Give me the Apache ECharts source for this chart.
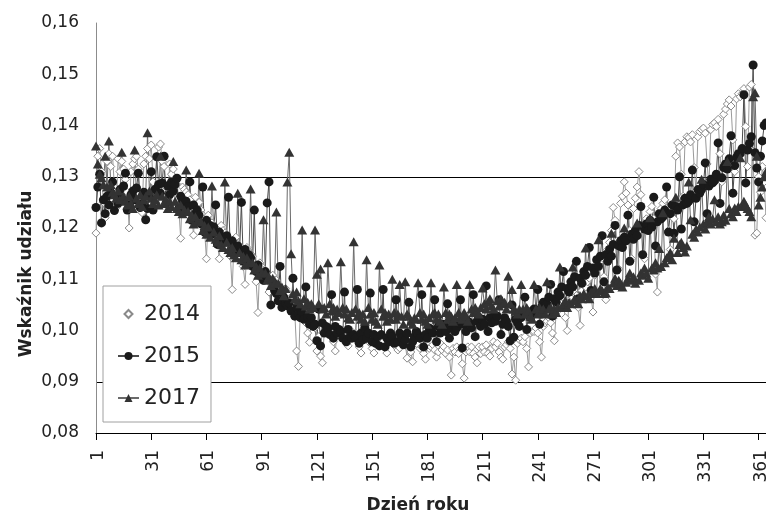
<!DOCTYPE html>
<html>
<head>
<meta charset="utf-8">
<script src="https://cdn.jsdelivr.net/npm/echarts@6/dist/echarts.min.js"></script>
<style>
  html, body { margin: 0; padding: 0; background: #fff; }
  #wrap { position: relative; width: 766px; height: 518px; }
  #chart { width: 766px; height: 518px; }
  .xlab {
    position: absolute;
    top: 450px;
    font: 17px "DejaVu Sans", sans-serif;
    line-height: 1;
    color: #222;
    white-space: nowrap;
    transform-origin: 0 0;
    transform: rotate(-90deg) translate(-100%, -50%);
  }
</style>
</head>
<body>
<div id="wrap"><div id="chart"></div></div>
<script>
// day numbers 1..365 (category axis)
const days = Array.from({ length: 365 }, (_, i) => String(i + 1));
const tickDays = [1, 31, 61, 91, 121, 151, 181, 211, 241, 271, 301, 331, 361];

const seriesNames = ["2014", "2015", "2017"];
const yTicks = [0.08, 0.09, 0.10, 0.11, 0.12, 0.13, 0.14, 0.15, 0.16];

// one row = one week, comment = first day of the row
const v2014 = [
  0.119, 0.134, 0.1355, 0.131, 0.125, 0.122, 0.133, // 1
  0.1345, 0.132, 0.134, 0.128, 0.124, 0.1335, 0.131, // 8
  0.133, 0.1315, 0.1295, 0.127, 0.120, 0.131, 0.1325, // 15
  0.1335, 0.134, 0.1315, 0.126, 0.123, 0.1325, 0.134, // 22
  0.1355, 0.1335, 0.1362, 0.129, 0.125, 0.134, 0.1358, // 29
  0.1364, 0.133, 0.132, 0.128, 0.1245, 0.1325, 0.1305, // 36
  0.1315, 0.1295, 0.1285, 0.124, 0.118, 0.128, 0.1275, // 43
  0.127, 0.1265, 0.1255, 0.1225, 0.1186, 0.126, 0.1245, // 50
  0.125, 0.1235, 0.1225, 0.1195, 0.114, 0.1225, 0.121, // 57
  0.121, 0.1205, 0.119, 0.117, 0.114, 0.1205, 0.1195, // 64
  0.119, 0.1185, 0.1175, 0.1145, 0.108, 0.1178, 0.1182, // 71
  0.1168, 0.1165, 0.1155, 0.1125, 0.109, 0.1162, 0.1155, // 78
  0.115, 0.1145, 0.1128, 0.1095, 0.1035, 0.1132, 0.1125, // 85
  0.1118, 0.1115, 0.1105, 0.1075, 0.105, 0.1108, 0.1098, // 92
  0.1098, 0.1088, 0.1082, 0.1058, 0.105, 0.1082, 0.1075, // 99
  0.107, 0.1065, 0.1058, 0.1035, 0.096, 0.093, 0.1038, // 106
  0.1028, 0.1025, 0.1015, 0.0995, 0.0977, 0.1018, 0.1012, // 113
  0.1005, 0.096, 0.0988, 0.095, 0.0937, 0.0998, 0.1008, // 120
  0.1005, 0.0995, 0.0992, 0.0978, 0.096, 0.0998, 0.1002, // 127
  0.0998, 0.0995, 0.0988, 0.0975, 0.097, 0.0992, 0.0998, // 134
  0.0988, 0.0995, 0.0985, 0.0968, 0.0956, 0.0988, 0.0995, // 141
  0.0985, 0.0988, 0.0975, 0.0965, 0.0956, 0.0985, 0.0988, // 148
  0.0985, 0.0975, 0.0978, 0.0968, 0.0956, 0.0982, 0.0985, // 155
  0.0982, 0.0975, 0.0968, 0.0962, 0.0966, 0.0978, 0.0975, // 162
  0.0975, 0.0946, 0.0965, 0.0958, 0.0939, 0.0975, 0.0978, // 169
  0.0972, 0.0965, 0.0968, 0.0955, 0.0944, 0.0972, 0.0965, // 176
  0.0968, 0.0972, 0.0962, 0.0948, 0.0958, 0.0975, 0.0962, // 183
  0.0968, 0.0955, 0.0962, 0.0948, 0.0913, 0.0965, 0.0958, // 190
  0.0968, 0.0955, 0.0965, 0.0935, 0.0907, 0.0958, 0.0968, // 197
  0.0958, 0.0968, 0.0955, 0.0948, 0.0937, 0.0968, 0.0955, // 204
  0.0968, 0.0958, 0.0972, 0.0955, 0.095, 0.0965, 0.0978, // 211
  0.0968, 0.0975, 0.0958, 0.0948, 0.0944, 0.0968, 0.0972, // 218
  0.0978, 0.0965, 0.0915, 0.0948, 0.0903, 0.0975, 0.0982, // 225
  0.0985, 0.0978, 0.0988, 0.0965, 0.0929, 0.0995, 0.0998, // 232
  0.0998, 0.1005, 0.0995, 0.0978, 0.0948, 0.1008, 0.1015, // 239
  0.1018, 0.1025, 0.1015, 0.0995, 0.098, 0.1035, 0.1042, // 246
  0.1045, 0.1052, 0.1048, 0.1025, 0.100, 0.1058, 0.1062, // 253
  0.1065, 0.1072, 0.1068, 0.1045, 0.101, 0.1078, 0.1088, // 260
  0.1085, 0.1095, 0.1102, 0.1065, 0.1036, 0.1108, 0.1118, // 267
  0.1128, 0.1135, 0.1142, 0.1105, 0.106, 0.1158, 0.1172, // 274
  0.1195, 0.124, 0.1215, 0.1175, 0.112, 0.1248, 0.1262, // 281
  0.129, 0.1268, 0.1245, 0.1195, 0.114, 0.1238, 0.1258, // 288
  0.128, 0.131, 0.1265, 0.1205, 0.114, 0.1218, 0.1198, // 295
  0.1232, 0.1242, 0.1218, 0.111, 0.1075, 0.1228, 0.1238, // 302
  0.1248, 0.1255, 0.1238, 0.1195, 0.1158, 0.1245, 0.1218, // 309
  0.134, 0.1366, 0.1358, 0.1305, 0.1262, 0.1368, 0.1378, // 316
  0.1376, 0.1368, 0.1382, 0.1318, 0.1272, 0.1378, 0.1388, // 323
  0.1392, 0.1395, 0.1385, 0.1325, 0.1282, 0.1392, 0.1402, // 330
  0.1405, 0.1398, 0.1412, 0.1345, 0.129, 0.1422, 0.1432, // 337
  0.1442, 0.145, 0.1438, 0.1372, 0.131, 0.1452, 0.1462, // 344
  0.1456, 0.1462, 0.1472, 0.1398, 0.132, 0.1475, 0.148, // 351
  0.135, 0.1186, 0.119, 0.130, 0.127, 0.132, 0.129, // 358
  0.122 // 365
];

const v2015 = [
  0.124, 0.128, 0.1305, 0.121, 0.1255, 0.1228, 0.1262, // 1
  0.1245, 0.127, 0.129, 0.1234, 0.1262, 0.1248, 0.1275, // 8
  0.1258, 0.1282, 0.1307, 0.1235, 0.1245, 0.1265, 0.1272, // 15
  0.1255, 0.1278, 0.1307, 0.124, 0.1248, 0.127, 0.1216, // 22
  0.1238, 0.1262, 0.131, 0.1235, 0.1275, 0.1339, 0.1285, // 29
  0.1268, 0.1288, 0.134, 0.1248, 0.1282, 0.1265, 0.129, // 36
  0.1272, 0.1285, 0.1297, 0.1238, 0.1262, 0.1255, 0.1245, // 43
  0.1252, 0.1242, 0.129, 0.1215, 0.1245, 0.1228, 0.1235, // 50
  0.1225, 0.1208, 0.128, 0.1192, 0.1215, 0.1195, 0.1205, // 57
  0.1188, 0.1202, 0.1245, 0.1168, 0.1192, 0.1175, 0.1182, // 64
  0.1172, 0.1185, 0.126, 0.1155, 0.1175, 0.1162, 0.1158, // 71
  0.1165, 0.1152, 0.125, 0.1135, 0.1158, 0.1142, 0.1148, // 78
  0.1142, 0.1125, 0.1235, 0.1115, 0.1128, 0.1112, 0.1105, // 85
  0.1098, 0.1115, 0.1249, 0.129, 0.105, 0.1095, 0.1078, // 92
  0.1072, 0.1058, 0.1125, 0.1045, 0.1065, 0.1052, 0.1048, // 99
  0.1054, 0.1038, 0.1102, 0.1028, 0.1045, 0.1032, 0.1025, // 106
  0.1035, 0.1022, 0.1085, 0.1026, 0.1012, 0.1025, 0.1008, // 113
  0.1012, 0.098, 0.1042, 0.097, 0.1015, 0.0995, 0.1008, // 120
  0.1005, 0.0992, 0.107, 0.0985, 0.1008, 0.0995, 0.1002, // 127
  0.0998, 0.0985, 0.1075, 0.0978, 0.1002, 0.0988, 0.0985, // 134
  0.0992, 0.0985, 0.108, 0.0975, 0.0995, 0.0982, 0.1005, // 141
  0.0985, 0.0995, 0.1073, 0.0978, 0.0992, 0.0975, 0.0988, // 148
  0.097, 0.0992, 0.108, 0.0968, 0.0985, 0.0978, 0.0995, // 155
  0.0988, 0.0975, 0.106, 0.0978, 0.0995, 0.0985, 0.0972, // 162
  0.0982, 0.0995, 0.1055, 0.0968, 0.0978, 0.0988, 0.0998, // 169
  0.0992, 0.0985, 0.107, 0.0968, 0.0992, 0.0985, 0.1005, // 176
  0.1002, 0.0995, 0.106, 0.0978, 0.1008, 0.0995, 0.1002, // 183
  0.1012, 0.0998, 0.1052, 0.0985, 0.1005, 0.1015, 0.0998, // 190
  0.1005, 0.1015, 0.106, 0.0966, 0.1012, 0.0998, 0.1018, // 197
  0.1015, 0.1005, 0.107, 0.0988, 0.1018, 0.1025, 0.1008, // 204
  0.1022, 0.1012, 0.1087, 0.0998, 0.1025, 0.1015, 0.1028, // 211
  0.1018, 0.1028, 0.106, 0.0992, 0.1012, 0.1025, 0.1018, // 218
  0.1008, 0.098, 0.105, 0.0987, 0.1022, 0.1015, 0.1008, // 225
  0.1025, 0.1035, 0.1065, 0.1002, 0.1032, 0.1025, 0.1038, // 232
  0.1042, 0.1035, 0.108, 0.1012, 0.1045, 0.1055, 0.1048, // 239
  0.1052, 0.1065, 0.109, 0.1028, 0.1062, 0.1055, 0.1075, // 246
  0.1068, 0.1085, 0.1115, 0.1048, 0.1082, 0.1075, 0.1095, // 253
  0.1085, 0.1105, 0.1135, 0.1062, 0.1102, 0.1092, 0.1115, // 260
  0.1108, 0.1125, 0.1162, 0.1078, 0.1122, 0.1112, 0.1138, // 267
  0.1125, 0.1145, 0.1185, 0.1095, 0.1148, 0.1135, 0.1158, // 274
  0.1145, 0.1168, 0.1205, 0.1118, 0.1165, 0.1175, 0.1162, // 281
  0.1182, 0.1175, 0.1225, 0.1135, 0.1188, 0.1178, 0.1195, // 288
  0.1185, 0.1205, 0.1242, 0.1148, 0.1198, 0.1208, 0.1195, // 295
  0.1215, 0.1202, 0.126, 0.1165, 0.1212, 0.1228, 0.1218, // 302
  0.1222, 0.1235, 0.128, 0.1192, 0.1228, 0.1245, 0.119, // 309
  0.1242, 0.1235, 0.130, 0.1198, 0.1245, 0.1258, 0.1248, // 316
  0.1252, 0.1265, 0.1313, 0.1212, 0.1258, 0.1275, 0.1268, // 323
  0.1275, 0.1285, 0.1327, 0.1228, 0.1282, 0.1295, 0.1288, // 330
  0.1292, 0.1305, 0.1366, 0.1248, 0.1298, 0.1318, 0.1325, // 337
  0.1315, 0.1335, 0.138, 0.1268, 0.1322, 0.1338, 0.1345, // 344
  0.1345, 0.1355, 0.146, 0.1288, 0.1352, 0.1365, 0.1378, // 351
  0.1518, 0.1347, 0.1317, 0.129, 0.134, 0.137, 0.140, // 358
  0.1405 // 365
];

const v2017 = [
  0.136, 0.1325, 0.1305, 0.1298, 0.1285, 0.134, 0.128, // 1
  0.137, 0.1285, 0.127, 0.1265, 0.1258, 0.1272, 0.1255, // 8
  0.1348, 0.1262, 0.1252, 0.1245, 0.1262, 0.1248, 0.1238, // 15
  0.1352, 0.1258, 0.1248, 0.1265, 0.1242, 0.1255, 0.1262, // 22
  0.1386, 0.1272, 0.1258, 0.1248, 0.1255, 0.1265, 0.1245, // 29
  0.134, 0.1262, 0.1248, 0.1255, 0.1238, 0.1252, 0.1242, // 36
  0.133, 0.1252, 0.1238, 0.1232, 0.1245, 0.1228, 0.1235, // 43
  0.1313, 0.1232, 0.1218, 0.1225, 0.1208, 0.1222, 0.1212, // 50
  0.1307, 0.1212, 0.1195, 0.1205, 0.1188, 0.1202, 0.1182, // 57
  0.1282, 0.1192, 0.1178, 0.1172, 0.1185, 0.1168, 0.1162, // 64
  0.129, 0.1172, 0.1158, 0.1152, 0.1162, 0.1148, 0.1142, // 71
  0.1268, 0.1152, 0.1138, 0.1145, 0.1128, 0.1142, 0.1132, // 78
  0.1276, 0.1132, 0.1118, 0.1125, 0.1108, 0.1122, 0.1112, // 85
  0.1216, 0.1112, 0.1098, 0.1105, 0.1088, 0.1102, 0.1092, // 92
  0.1231, 0.1092, 0.1078, 0.1085, 0.1068, 0.1082, 0.129, // 99
  0.1348, 0.115, 0.1072, 0.1062, 0.1075, 0.1058, 0.1052, // 106
  0.1196, 0.1062, 0.1048, 0.1055, 0.1042, 0.1052, 0.1045, // 113
  0.1196, 0.111, 0.1052, 0.112, 0.1042, 0.1045, 0.1032, // 120
  0.1132, 0.1052, 0.1038, 0.1045, 0.1028, 0.1042, 0.1035, // 127
  0.1134, 0.1045, 0.1032, 0.1042, 0.1025, 0.1022, 0.1035, // 134
  0.1173, 0.1042, 0.1028, 0.1035, 0.1022, 0.1032, 0.1018, // 141
  0.1138, 0.1045, 0.1032, 0.1022, 0.1035, 0.1018, 0.1012, // 148
  0.1128, 0.1042, 0.1028, 0.1035, 0.1018, 0.1032, 0.1022, // 155
  0.110, 0.1035, 0.1022, 0.1032, 0.109, 0.1028, 0.1012, // 162
  0.1095, 0.1032, 0.1028, 0.1018, 0.1012, 0.1025, 0.1022, // 169
  0.1093, 0.1035, 0.1022, 0.1032, 0.1018, 0.1012, 0.1025, // 176
  0.1093, 0.1032, 0.1035, 0.1022, 0.1032, 0.1018, 0.1012, // 183
  0.1085, 0.1035, 0.1022, 0.1032, 0.1028, 0.1018, 0.1025, // 190
  0.109, 0.1035, 0.1028, 0.1022, 0.1035, 0.1028, 0.1018, // 197
  0.109, 0.1042, 0.1035, 0.1045, 0.1038, 0.1032, 0.1045, // 204
  0.1083, 0.1052, 0.1042, 0.1055, 0.1062, 0.1048, 0.1042, // 211
  0.1118, 0.1058, 0.1048, 0.1062, 0.1052, 0.1055, 0.1042, // 218
  0.1106, 0.1052, 0.108, 0.1042, 0.1038, 0.1032, 0.1042, // 225
  0.109, 0.1042, 0.1032, 0.1045, 0.1038, 0.1028, 0.1022, // 232
  0.109, 0.1042, 0.1032, 0.1045, 0.1035, 0.1042, 0.1032, // 239
  0.1095, 0.1042, 0.1045, 0.1032, 0.1042, 0.1035, 0.1045, // 246
  0.1124, 0.1045, 0.1052, 0.1058, 0.1045, 0.1055, 0.1052, // 253
  0.1124, 0.1062, 0.1058, 0.1052, 0.1068, 0.1062, 0.1072, // 260
  0.1161, 0.1068, 0.1062, 0.1075, 0.1072, 0.1082, 0.1072, // 267
  0.1177, 0.1082, 0.1078, 0.1072, 0.1073, 0.1085, 0.1082, // 274
  0.119, 0.1092, 0.1102, 0.1088, 0.1098, 0.1092, 0.1085, // 281
  0.120, 0.1094, 0.1102, 0.1112, 0.1098, 0.1105, 0.1092, // 288
  0.121, 0.1098, 0.1112, 0.1108, 0.1122, 0.1112, 0.1102, // 295
  0.122, 0.1122, 0.1118, 0.1132, 0.1122, 0.116, 0.1125, // 302
  0.123, 0.1132, 0.1142, 0.1143, 0.1152, 0.1138, 0.118, // 309
  0.126, 0.1152, 0.1168, 0.1172, 0.1162, 0.1153, 0.1165, // 316
  0.129, 0.1216, 0.1188, 0.1182, 0.1198, 0.1192, 0.1202, // 323
  0.1295, 0.1208, 0.1198, 0.1212, 0.1222, 0.1208, 0.1218, // 330
  0.1255, 0.1212, 0.1222, 0.1208, 0.1212, 0.1225, 0.1215, // 337
  0.133, 0.1238, 0.1228, 0.1222, 0.1239, 0.1232, 0.1242, // 344
  0.1337, 0.1242, 0.1252, 0.1245, 0.1238, 0.1232, 0.1222, // 351
  0.1456, 0.1464, 0.134, 0.1245, 0.126, 0.128, 0.130, // 358
  0.131 // 365
];

// only the 0,09 and 0,13 gridlines are drawn
const gridColors = yTicks.map((t) => (Math.abs(t - 0.09) < 1e-6 || Math.abs(t - 0.13) < 1e-6 ? "#000" : "rgba(0,0,0,0)"));

const chart = echarts.init(document.getElementById("chart"));

chart.setOption({
  animation: false,
  backgroundColor: "#fff",
  grid: { left: 96, right: 0, top: 23, bottom: 85 },
  xAxis: {
    type: "category",
    data: days,
    boundaryGap: false,
    axisLine: { lineStyle: { color: "#000", width: 1 } },
    axisTick: { interval: 29, length: 7, lineStyle: { color: "#000" } },
    axisLabel: { show: false },
  },
  yAxis: {
    type: "value",
    min: 0.08,
    max: 0.16,
    interval: 0.01,
    axisLine: { show: true, lineStyle: { color: "#8c8c8c" } },
    axisTick: { show: false },
    axisLabel: {
      formatter: (v) => v.toFixed(2).replace(".", ","),
      fontSize: 17,
      color: "#222",
      margin: 17,
      fontFamily: "DejaVu Sans",
    },
    splitLine: { show: true, lineStyle: { color: gridColors, width: 1 } },
  },
  legend: {
    orient: "vertical",
    left: 103,
    top: 286,
    padding: [17, 11, 13, 14],
    itemGap: 20,
    itemWidth: 21,
    itemHeight: 10,
    borderColor: "#a0a0a0",
    borderWidth: 1,
    backgroundColor: "#fff",
    textStyle: { fontSize: 22, color: "#222", fontFamily: "DejaVu Sans" },
    data: [
      { name: seriesNames[0], lineStyle: { opacity: 0 } },
      { name: seriesNames[1] },
      { name: seriesNames[2] },
    ],
  },
  series: [
    {
      name: seriesNames[0],
      type: "line",
      data: v2014,
      showAllSymbol: true,
      symbol: "diamond",
      symbolSize: 8,
      itemStyle: { color: "#fff", borderColor: "#8a8a8a", borderWidth: 1 },
      lineStyle: { color: "#9a9a9a", width: 1 },
    },
    {
      name: seriesNames[1],
      type: "line",
      data: v2015,
      showAllSymbol: true,
      symbol: "circle",
      symbolSize: 9,
      itemStyle: { color: "#1a1a1a", borderWidth: 0 },
      lineStyle: { color: "#4a4a4a", width: 1 },
    },
    {
      name: seriesNames[2],
      type: "line",
      data: v2017,
      showAllSymbol: true,
      symbol: "triangle",
      symbolSize: [10, 9],
      itemStyle: { color: "#333", borderWidth: 0 },
      lineStyle: { color: "#6a6a6a", width: 1 },
    },
  ],
  graphic: [
    {
      type: "text",
      x: 27,
      y: 274,
      rotation: Math.PI / 2,
      style: { text: "Wskaźnik udziału", font: "bold 17px DejaVu Sans", fill: "#222", align: "center", verticalAlign: "middle" },
    },
    {
      type: "text",
      x: 418,
      y: 506,
      style: { text: "Dzień roku", font: "bold 17px DejaVu Sans", fill: "#222", align: "center", verticalAlign: "middle" },
    },
  ],
});

// vertical day labels, placed on the axis ticks
const wrap = document.getElementById("wrap");
tickDays.forEach((d) => {
  const px = chart.convertToPixel({ xAxisIndex: 0 }, d - 1);
  const el = document.createElement("div");
  el.className = "xlab";
  el.style.left = (px + 1) + "px";
  el.textContent = String(d);
  wrap.appendChild(el);
});
</script>
</body>
</html>
